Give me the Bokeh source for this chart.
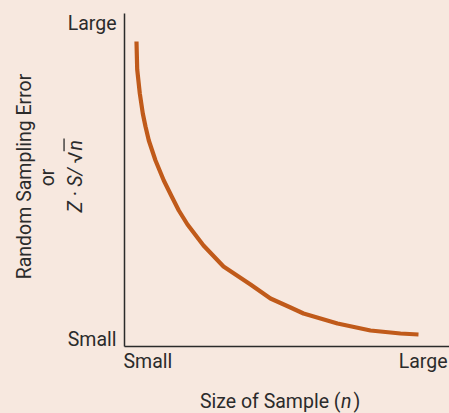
import math
from bokeh.plotting import figure
from bokeh.models import Range1d
from bokeh.core.properties import value
from bokeh.embed import file_html
from bokeh.resources import INLINE

# ---- data (abstract units: 0-100 on both axes) ----
sample_size = [3.69, 3.91, 4.71, 5.63, 6.46, 7.48, 9.54, 12.09, 14.68, 16.71, 19.38,
               24.31, 30.46, 38.77, 44.92, 51.08, 55.08, 65.54, 75.69, 84.92, 90.46]
sampling_error = [91.59, 83.18, 75.98, 69.97, 66.07, 61.86, 55.86, 49.85, 44.74, 40.84, 36.64,
                  30.33, 24.02, 18.62, 14.41, 11.71, 9.91, 6.91, 4.80, 3.90, 3.60]

x_tick_pos = [7.2, 91.9]
x_tick_labels = ["Small", "Large"]
y_tick_pos = [2.0, 97.0]
y_tick_labels = ["Small", "Large"]

x_title = ["Size of Sample (", "n", ")"]
y_title = ["Random Sampling Error", "or", "Z \u00b7 S/", "\u221a", "n"]

BG = "#F7E8DF"
INK = "#2b2b2b"
CURVE = "#C05A1A"
FONT = value("Roboto")
FS = value("19.5px")

# axis extents (data units)
X0, X1, Y0, Y1 = 0, 100, 0, 100

p = figure(width=449, height=413, output_backend="svg", toolbar_location=None,
           x_range=Range1d(-38.154, 100), y_range=Range1d(-20.12, 103.9),
           min_border=0)
p.background_fill_color = BG
p.border_fill_color = BG
p.outline_line_color = None
p.grid.visible = False
p.axis.visible = False

# axes lines
p.segment(x0=[X0, X0], y0=[Y0, Y0], x1=[X1, X0], y1=[Y0, Y1], line_color=INK, line_width=1.5)

# curve
p.line(sample_size, sampling_error, line_color=CURVE, line_width=4.2,
       line_cap="butt", line_join="round")

txt = dict(text_font=FONT, text_font_size=FS, text_color=INK)

# tick labels
p.text(x=x_tick_pos, y=[-1.2] * len(x_tick_pos), text=x_tick_labels,
       text_align="center", text_baseline="top", **txt)
p.text(x=[-2.46] * len(y_tick_pos), y=y_tick_pos, text=y_tick_labels,
       text_align="right", text_baseline="middle", **txt)

# x-axis title
ty = -16.45
p.text(x=[66.46], y=[ty], text=[x_title[0]], text_align="right", text_baseline="middle", **txt)
p.text(x=[66.6], y=[ty], text=[x_title[1]], text_align="left", text_baseline="middle",
       text_font_style="italic", **txt)
p.text(x=[70.45], y=[ty], text=[x_title[2]], text_align="left", text_baseline="middle", **txt)

# y-axis title (rotated)
rot = math.pi / 2
p.text(x=[-30.77, -23.78], y=[51.05, 50.75], text=y_title[:2], angle=rot,
       text_align="center", text_baseline="middle", **txt)
lx = -15.08
p.text(x=[lx], y=[40.24], text=[y_title[2]], angle=rot, text_align="left",
       text_baseline="middle", text_font_style="italic", **txt)
p.text(x=[lx], y=[54.95], text=[y_title[3]], angle=rot, text_align="left",
       text_baseline="middle", **txt)
p.text(x=[lx], y=[58.86], text=[y_title[4]], angle=rot, text_align="left",
       text_baseline="middle", text_font_style="italic", **txt)
# radical overbar
p.segment(x0=[-18.6], y0=[58.6], x1=[-18.6], y1=[62.46], line_color=INK, line_width=1.3)

html = file_html(p, INLINE)
html = html.replace("<head>", "<head><style>html,body{background:%s;}</style>" % BG, 1)
open("out.html", "w").write(html)
